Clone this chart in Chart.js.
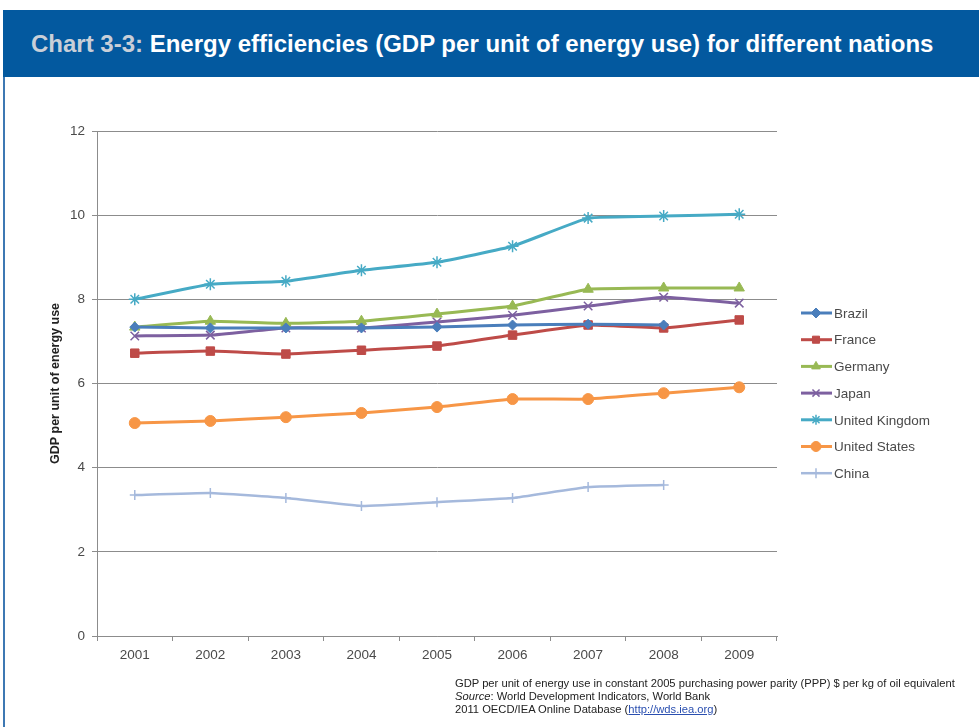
<!DOCTYPE html>
<html>
<head>
<meta charset="utf-8">
<script src="https://cdn.jsdelivr.net/npm/chart.js@4.4.0/dist/chart.umd.min.js"></script>
<style>
  html, body { margin:0; padding:0; background:#fff; width:979px; height:727px; overflow:hidden; font-family:"Liberation Sans", Arial, sans-serif; }
  #header { position:absolute; left:3px; top:10px; width:976px; height:67px; background:#03599f; }
  #header .t { position:absolute; left:28px; top:21px; font-size:24px; line-height:1.12; font-weight:bold; color:#fff; white-space:nowrap; }
  #header .t span { color:#c9cfd8; }
  #box { position:absolute; left:3px; top:77px; width:980px; height:660px; border-left:2px solid #3d78b3; box-sizing:border-box; }
  #chartwrap { position:absolute; left:0; top:0; width:979px; height:727px; }
  #note { position:absolute; left:455px; top:677px; font-size:11.2px; line-height:13px; color:#222; white-space:nowrap; }
  #note a { color:#2a4fb0; text-decoration:underline; }
</style>
</head>
<body>
<div id="header"><div class="t"><span>Chart 3-3:</span> Energy efficiencies (GDP per unit of energy use) for different nations</div></div>
<div id="box"></div>
<div id="chartwrap"><canvas id="c" width="979" height="727"></canvas></div>
<div id="note">GDP per unit of energy use in constant 2005 purchasing power parity (PPP) $ per kg of oil equivalent<br><i>Source</i>: World Development Indicators, World Bank<br>2011 OECD/IEA Online Database (<a>http://wds.iea.org</a>)</div>
<script>
const years = ['2001','2002','2003','2004','2005','2006','2007','2008','2009'];
const brazil  = [7.34, 7.32, 7.32, 7.32, 7.34, 7.39, 7.41, 7.39, null];
const france  = [6.72, 6.77, 6.70, 6.79, 6.89, 7.15, 7.39, 7.32, 7.51];
const germany = [7.34, 7.48, 7.43, 7.48, 7.65, 7.84, 8.24, 8.27, 8.27];
const japan   = [7.13, 7.15, 7.32, 7.32, 7.46, 7.62, 7.84, 8.05, 7.91];
const uk      = [8.00, 8.36, 8.43, 8.69, 8.88, 9.26, 9.93, 9.98, 10.02];
const us      = [5.06, 5.11, 5.20, 5.30, 5.44, 5.63, 5.63, 5.77, 5.91];
const china   = [3.35, 3.40, 3.28, 3.09, 3.18, 3.28, 3.54, 3.59, null];
const yTicks  = [0, 2, 4, 6, 8, 10, 12];

const FONT = '"Liberation Sans", Arial, sans-serif';

function ds(label, data, color, style, radius, width) {
  return { label, data, borderColor: color, backgroundColor: color, pointStyle: style,
           pointRadius: radius, pointHoverRadius: radius, borderWidth: width || 3,
           pointBorderWidth: (style === 'crossRot' || style === 'star' || style === 'cross') ? 1.5 : 1,
           tension: 0.1, spanGaps: false };
}

const datasets = [
  ds('Brazil', brazil, '#4a7ebb', 'rectRot', 5),
  ds('France', france, '#be4b48', 'rect', 6),
  ds('Germany', germany, '#98b954', 'triangle', 6),
  ds('Japan', japan, '#7d60a0', 'crossRot', 6),
  ds('United Kingdom', uk, '#46aac5', 'star', 6),
  ds('United States', us, '#f79646', 'circle', 5.5),
  ds('China', china, '#a5b9dc', 'cross', 5, 2.5)
];

const legendPlugin = {
  id: 'sideLegend',
  afterDraw(chart) {
    const ctx = chart.ctx;
    ctx.save();
    chart.data.datasets.forEach((d, i) => {
      const y = 313 + i * 26.7;
      ctx.strokeStyle = d.borderColor;
      ctx.lineWidth = d.borderWidth;
      ctx.beginPath(); ctx.moveTo(801, y); ctx.lineTo(832, y); ctx.stroke();
      ctx.fillStyle = d.backgroundColor;
      ctx.lineWidth = d.pointBorderWidth;
      Chart.helpers.drawPoint(ctx, { pointStyle: d.pointStyle, radius: Math.min(d.pointRadius, 5), rotation: 0, borderWidth: d.pointBorderWidth }, 816, y);
      ctx.fillStyle = '#4a4a4a';
      ctx.font = '13.5px ' + FONT;
      ctx.textBaseline = 'middle';
      ctx.textAlign = 'left';
      ctx.fillText(d.label, 834, y + 1);
    });
    ctx.restore();
  }
};

new Chart(document.getElementById('c'), {
  type: 'line',
  data: { labels: years, datasets },
  options: {
    responsive: false,
    animation: false,
    layout: { padding: { left: 48, top: 131, right: 202, bottom: 61 } },
    plugins: { legend: { display: false }, tooltip: { enabled: false } },
    scales: {
      x: {
        offset: true,
        grid: { offset: true, drawOnChartArea: false, drawTicks: true, tickLength: 5, color: '#8c8c8c' },
        border: { color: '#8c8c8c', width: 1 },
        ticks: { color: '#4a4a4a', font: { family: FONT, size: 13.5 }, padding: 6, maxRotation: 0 },
        afterFit(s) { s.height = 30; }
      },
      y: {
        min: 0, max: 12,
        afterBuildTicks(s) { s.ticks = yTicks.map(v => ({ value: v })); },
        grid: { color: '#8c8c8c', lineWidth: 1, tickLength: 5 },
        border: { color: '#8c8c8c', width: 1 },
        ticks: { color: '#4a4a4a', font: { family: FONT, size: 13.5 }, padding: 7 },
        title: { display: true, text: 'GDP per unit of energy use', color: '#222', font: { family: FONT, size: 12.5, weight: 'bold' }, padding: 0 },
        afterFit(s) { s.width = 49; }
      }
    }
  },
  plugins: [legendPlugin]
});
</script>
</body>
</html>
